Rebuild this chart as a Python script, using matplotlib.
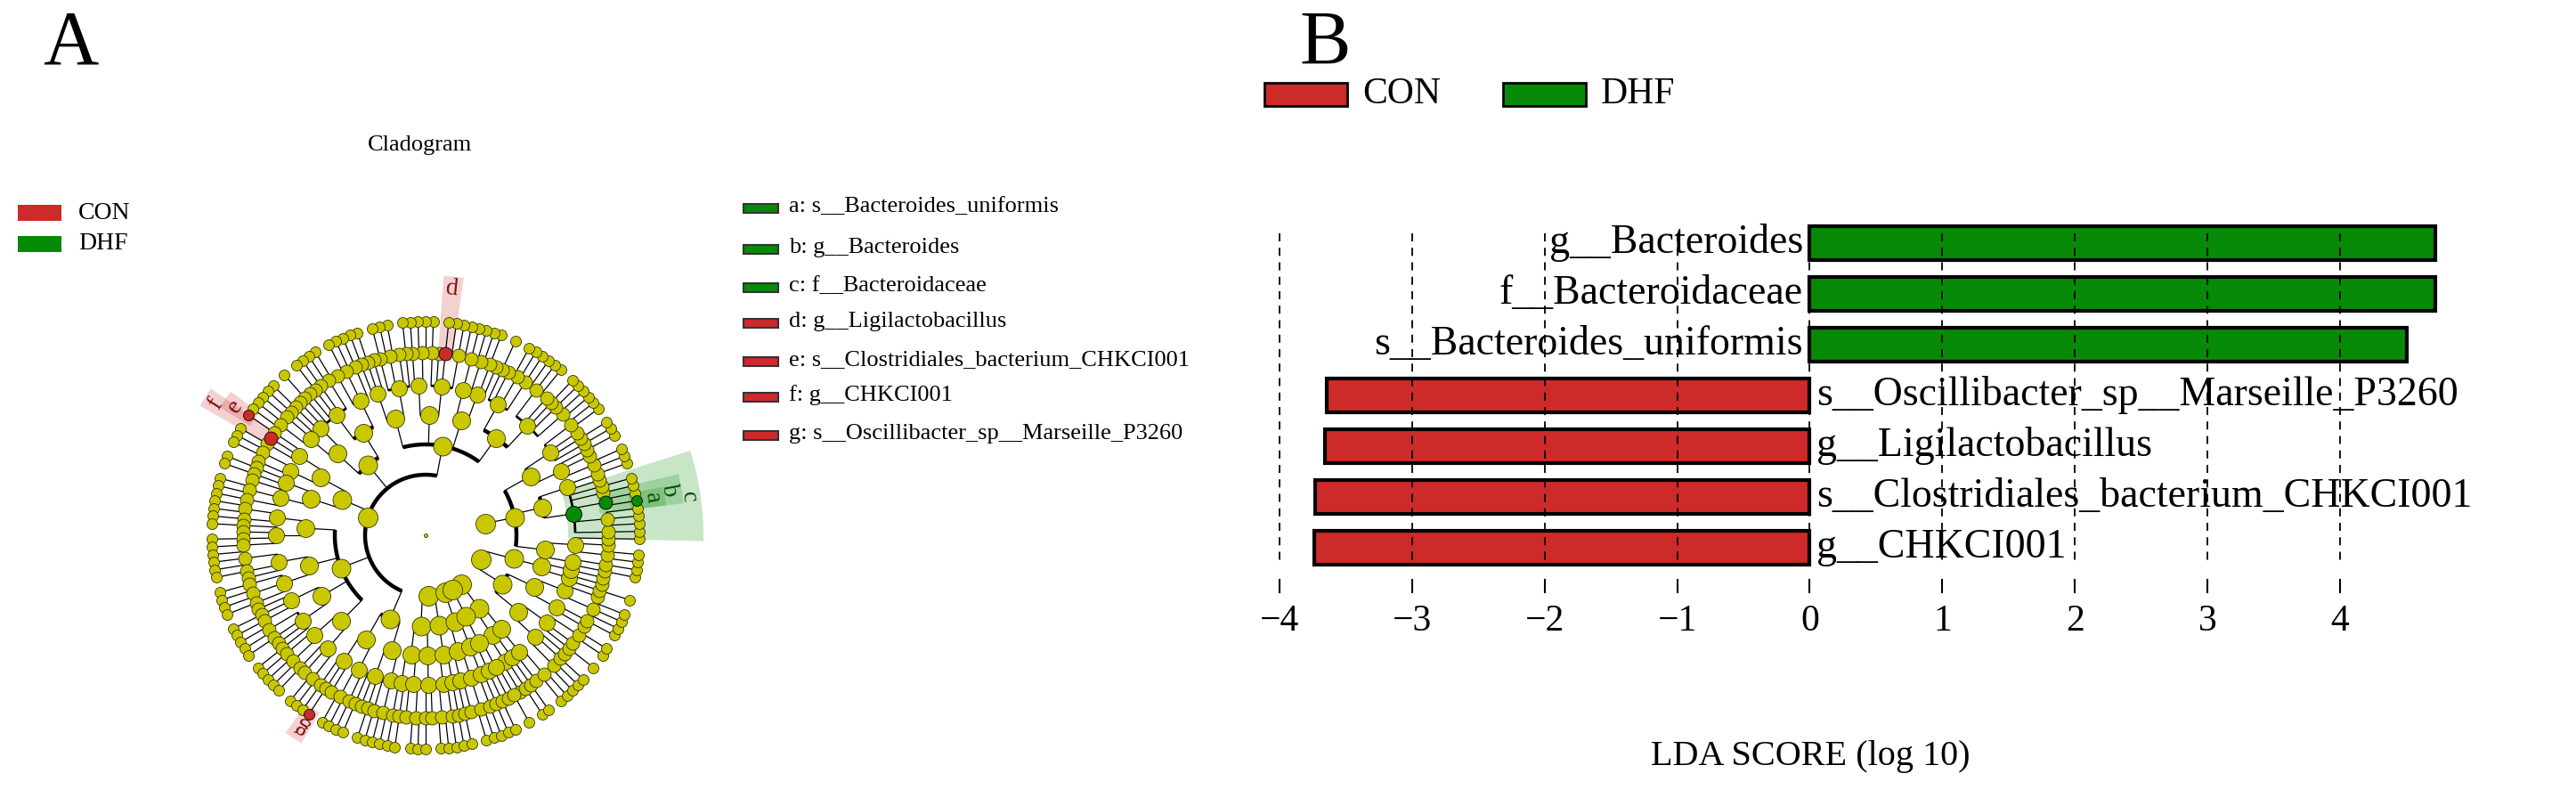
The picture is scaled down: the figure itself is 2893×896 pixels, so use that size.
import numpy as np
import matplotlib
matplotlib.use("Agg")
import matplotlib.pyplot as plt
from matplotlib.patches import Rectangle, Polygon

plt.rcParams["font.family"] = ["Liberation Serif", "DejaVu Serif"]

W, H = 2893, 896
RED = "#CD2A2A"
GREEN = "#078A07"
YELLOW = "#C9C800"

# ── LDA bar data (panel B, top to bottom) ─────
taxa = [
    "g__Bacteroides",
    "f__Bacteroidaceae",
    "s__Bacteroides_uniformis",
    "s__Oscillibacter_sp__Marseille_P3260",
    "g__Ligilactobacillus",
    "s__Clostridiales_bacterium_CHKCI001",
    "g__CHKCI001",
]
lda = [4.72, 4.72, 4.50, -3.64, -3.66, -3.73, -3.74]
groups = ["DHF", "DHF", "DHF", "CON", "CON", "CON", "CON"]
x_ticks = [-4, -3, -2, -1, 0, 1, 2, 3, 4]

# ── cladogram data (panel A) ──────────────────
# phylum -> class -> order -> family -> genus (int = number of species)
tree = [
    [[[[0, 1], [1]], [[0, 2]]]],                                   # small phylum
    [[[[2, 1, 0], [1, 0, 2]], [[0, 1], [3, 0]]],
     [[[1, 0], [0]]]],                                             # Proteobacteria
    [[[[1, 1], [2, 0, 1]], [[1, 3, 2, 1, 1], [0, 1]],
      [[2, 0, 1], [1, 1, 0, 2]]]],                                 # Bacteroidota
    [[[[2, 1, 1, 0, 3], [1, 2, 0, 1]], [[0, 1, 2], [1]],
      [[3, 1, 0, 1], [2, 1]], [[1, 0, 2, 1], [0, 1, 1]]],
     [[[1, 2, 0], [2, 1, 1, 0, 1]], [[0, 1], [1, 1, 2]]],
     [[[1, 0, 1], [2, 0]], [[1, 1], [0, 2, 1]]],
     [[[2, 1], [1, 0, 1, 1]], [[3, 1, 0], [1, 2, 1]],
      [[0, 1, 1], [2, 1, 0, 1]], [[1, 2], [1, 0, 2]]],
     [[[1, 1, 0], [2, 1]], [[1, 0, 1, 1], [2]]]],                  # Firmicutes
    [[[[1, 1], [0, 2]], [[1, 0]]], [[[2, 1], [1]]]],               # Actinobacteriota
    [[[[1, 0], [2]], [[1, 1]]]],                                   # Desulfobacterota
    [[[[1], [0, 1]]]],                                             # Verrucomicrobiota
]
level_r = [0, 68, 102, 135, 168, 205, 240]
level_px = [4, 22, 21, 20, 18, 15, 12]

# letter, level, approx angle (deg), group
marks = [
    ("a", 6, 10, "DHF"), ("b", 5, 9, "DHF"), ("c", 4, 9.5, "DHF"),
    ("d", 5, 83, "CON"), ("e", 6, 147, "CON"), ("f", 5, 147, "CON"),
    ("g", 6, 236, "CON"),
]
clade_legend = [
    ("a: s__Bacteroides_uniformis", GREEN), ("b: g__Bacteroides", GREEN),
    ("c: f__Bacteroidaceae", GREEN), ("d: g__Ligilactobacillus", RED),
    ("e: s__Clostridiales_bacterium_CHKCI001", RED), ("f: g__CHKCI001", RED),
    ("g: s__Oscillibacter_sp__Marseille_P3260", RED),
]
legend_y = [234, 280, 323, 363, 406, 446, 489]


def count_leaves(node):
    if isinstance(node, int):
        return max(node, 1)
    return sum(count_leaves(c) for c in node)


def expand(node):
    if isinstance(node, int):
        return [None] * node
    return node


N = count_leaves(tree)
step = 360.0 / N
nodes, arcs, spokes = [], [], []
counter = [0]


def layout(node, level):
    kids = expand(node) if node is not None else []
    if not kids:
        ang = -60 + (counter[0] + 0.5) * step
        counter[0] += 1
        nodes.append((level, ang, ang, ang))
        return ang, ang
    angs = []
    lo, hi = 1e9, -1e9
    for k in kids:
        a, (l0, h0) = None, layout(k, level + 1)
        angs.append(nodes[-1][1] if False else None)
    return lo, hi


def place(node, level):
    kids = expand(node) if node is not None else []
    if not kids:
        ang = -60 + (counter[0] + 0.5) * step
        counter[0] += 1
        nodes.append((level, ang, ang - step / 2, ang + step / 2))
        return ang, ang - step / 2, ang + step / 2
    res = [place(k, level + 1) for k in kids]
    centers = [r[0] for r in res]
    ang = 0.5 * (centers[0] + centers[-1])
    lo, hi = res[0][1], res[-1][2]
    if level >= 1:
        arcs.append((level_r[level], centers[0], centers[-1]))
        for c in centers:
            spokes.append((level_r[level], level_r[level + 1], c))
    nodes.append((level, ang, lo, hi))
    return ang, lo, hi


place(tree, 0)

fig = plt.figure(figsize=(W / 100, H / 100), dpi=100)
ov = fig.add_axes([0, 0, 1, 1])
ov.set_xlim(0, W)
ov.set_ylim(H, 0)
ov.axis("off")

cx, cy = 478, 601


def pol(r, a):
    t = np.deg2rad(a)
    return cx + r * np.cos(t), cy - r * np.sin(t)


# highlight wedges
found = []
for letter, lev, a0, grp in marks:
    cand = [n for n in nodes if n[0] == lev]
    n = min(cand, key=lambda n: abs(((n[1] - a0 + 180) % 360) - 180))
    found.append((letter, n, grp))
    col = GREEN if grp == "DHF" else RED
    r0 = level_r[lev] - 8
    rl = 258 + (6 - lev) * 20
    lo, hi = n[2] - 1.2, n[3] + 1.2
    tt = np.linspace(lo, hi, 20)
    pts = [pol(r0, t) for t in tt] + [pol(rl + 14, t) for t in tt[::-1]]
    ov.add_patch(Polygon(pts, closed=True, facecolor=col, alpha=0.22,
                         edgecolor="none", zorder=1))
    lx, ly = pol(rl, n[1])
    ov.text(lx, ly, letter, fontsize=20, color="#7a1010" if grp == "CON" else "#0a4a0a",
            rotation=n[1] - 90, ha="center", va="center", zorder=6)

for r, a1, a2 in arcs:
    tt = np.linspace(a1, a2, max(int(abs(a2 - a1)), 2))
    xs, ys = pol(r, tt)
    lw = 3.2 if r <= 135 else 2.0
    ov.plot(xs, ys, color="black", lw=lw, zorder=2, solid_capstyle="butt")
for r0, r1, a in spokes:
    xs, ys = pol(np.array([r0, r1]), a)
    ov.plot(xs, ys, color="black", lw=0.9, zorder=2)

hl = {id(n): grp for _, n, grp in found}
for n in nodes:
    lev, a = n[0], n[1]
    x, y = pol(level_r[lev], a)
    col = YELLOW
    for _, m, grp in found:
        if m is n:
            col = GREEN if grp == "DHF" else RED
    ov.plot(x, y, "o", ms=level_px[lev] / 1.39, mfc=col, mec="#333300" if col == YELLOW else "black",
            mew=0.6, zorder=4 if col == YELLOW else 5)

# left panel texts
ov.text(79, 51, "A", fontsize=62, ha="center", va="center")
ov.text(472, 163, "Cladogram", fontsize=19, ha="center", va="center")
for lab, col, yy in [("CON", RED, 239), ("DHF", GREEN, 274)]:
    ov.add_patch(Rectangle((20, yy - 9), 49, 18, facecolor=col, edgecolor="none"))
    ov.text(88, yy, lab, fontsize=20, va="center")
for (lab, col), yy in zip(clade_legend, legend_y):
    ov.add_patch(Rectangle((835, yy - 5), 39, 10, facecolor=col, edgecolor="#333333", lw=1.5))
    ov.text(886, yy - 2, lab, fontsize=19, va="center")

# panel B
ov.text(1488, 51, "B", fontsize=62, ha="center", va="center")
for lab, col, x0 in [("CON", RED, 1420), ("DHF", GREEN, 1688)]:
    ov.add_patch(Rectangle((x0, 93), 93, 26, facecolor=col, edgecolor="black", lw=2))
    ov.text(x0 + 110, 106, lab, fontsize=30, va="center")
ov.text(2033, 849, "LDA SCORE (log 10)", fontsize=29, ha="center", va="center")

ax = fig.add_axes([1422 / W, (H - 729) / H, (2777 - 1422) / W, (729 - 233) / H])
ax.set_xlim(-4.1, 5.0)
ax.set_ylim(8.0, -0.7)
ax.axis("off")
ax.patch.set_alpha(0)
ypos = np.arange(len(taxa))
cols = [GREEN if g == "DHF" else RED for g in groups]
ax.barh(ypos, lda, height=0.66, color=cols, edgecolor="black", lw=3, zorder=2)
for t in x_ticks:
    ax.plot([t, t], [-0.2, 6.3], ls=(0, (5, 4)), color="black", lw=1.3, zorder=3)
    ax.plot([t, t], [6.63, 6.88], color="black", lw=1.5)
    ax.text(t, 7.45, f"{t}".replace("-", "\u2212"), fontsize=30, ha="center", va="center")
for y, lab, v in zip(ypos, taxa, lda):
    if v > 0:
        ax.text(-0.05, y, lab, fontsize=33, ha="right", va="center", zorder=4)
    else:
        ax.text(0.05, y, lab, fontsize=33, ha="left", va="center", zorder=4)

fig.savefig("out.png", dpi=100)
